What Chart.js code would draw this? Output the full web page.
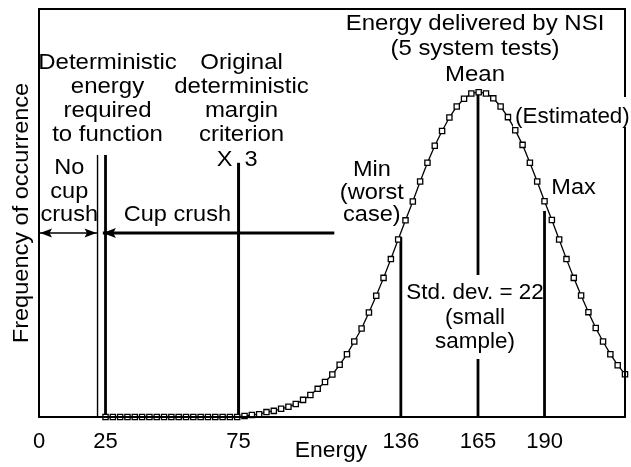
<!DOCTYPE html>
<html><head><meta charset="utf-8">
<script src="https://cdn.jsdelivr.net/npm/chart.js@4/dist/chart.umd.min.js"></script>
<style>html,body{margin:0;padding:0;background:#fff;}canvas{display:block;}</style>
</head><body>
<canvas id="c" width="631" height="467"></canvas>
<script>
// ---- data ----
const energy = [25, 27.75, 30.5, 33.25, 36, 38.75, 41.5, 44.25, 47, 49.75, 52.5, 55.25, 58, 60.75, 63.5, 66.25, 69, 71.75, 74.5, 77.25,
  80, 82.75, 85.5, 88.25, 91, 93.75, 96.5, 99.25, 102, 104.75, 107.5, 110.25, 113, 115.75, 118.5, 121.25, 124, 126.75, 129.5, 132.25,
  135, 137.75, 140.5, 143.25, 146, 148.75, 151.5, 154.25, 157, 159.75, 162.5, 165.25, 168, 170.75, 173.5, 176.25, 179, 181.75, 184.5, 187.25,
  190, 192.75, 195.5, 198.25, 201, 203.75, 206.5, 209.25, 212, 214.75, 217.5, 220.25];
const frequency = [0, 0, 0, 0, 0, 0, 0, 0, 0, 0, 0, 0, 0, 0, 0, 0, 0, 0, 0, 0.25,
  0.5, 0.7, 1.2, 1.5, 2.0, 2.5, 3.2, 4.2, 5.4, 6.9, 8.6, 10.4, 12.8, 15.4, 18.5, 21.7, 25.6, 29.7, 34.1, 38.7,
  43.5, 48.2, 52.8, 57.7, 62.3, 66.5, 70.1, 73.4, 76.1, 78.0, 79.3, 79.6, 79.3, 78.1, 76.1, 73.5, 70.3, 66.7, 62.3, 57.7,
  52.9, 48.3, 43.5, 38.7, 34.1, 29.8, 25.7, 21.8, 18.5, 15.4, 12.7, 10.5];
const tickValues = [0, 25, 75, 136, 165, 190];
const xMax = 220.25;

// vertical reference lines (energy, top frequency)
const thinLineEnergy = 22, thinLineTop = 64.2;
const requiredEnergy = 25, requiredTop = 64.2;
const criterionEnergy = 75, criterionTop = 62.3;
const minEnergy = 136, minTop = 44.1;
const maxEnergy = 190, maxTop = 50.5;
const meanEnergy = 165, meanUpper = [79.6, 34.8], meanLower = [14.2, 0];
// horizontal arrows
const arrowLevel = 45.1;
const noCrushSpan = [0, 22];
const cupCrushSpan = [24, 111];

const FONT = '22px "Liberation Sans", Arial, Helvetica, sans-serif';

function vline(x, y0, y1, w) {
  return { type: 'line', data: [{x: x, y: y0}, {x: x, y: y1}], borderColor: '#000', borderWidth: w,
    pointRadius: 0, fill: false, tension: 0, clip: false };
}
function hline(span, y, w) {
  return { type: 'line', data: [{x: span[0], y: y}, {x: span[1], y: y}], borderColor: '#000', borderWidth: w,
    pointRadius: 0, fill: false, tension: 0, clip: false };
}

const textPlugin = {
  id: 'annot',
  afterDatasetsDraw(chart) {
    const ctx = chart.ctx, a = chart.chartArea;
    const xs = chart.scales.x, ys = chart.scales.y;
    const px = v => xs.getPixelForValue(v);
    ctx.save();
    // frame
    ctx.strokeStyle = '#000'; ctx.lineWidth = 2;
    ctx.strokeRect(a.left, a.top, a.right - a.left, a.bottom - a.top);
    // arrowheads
    const yA = ys.getPixelForValue(arrowLevel);
    function head(tip, dir, len, half) {
      ctx.beginPath();
      ctx.moveTo(tip, yA);
      ctx.lineTo(tip - dir * len, yA - half);
      ctx.lineTo(tip - dir * len * 0.8, yA);
      ctx.lineTo(tip - dir * len, yA + half);
      ctx.closePath();
      ctx.fillStyle = '#000'; ctx.fill();
    }
    head(px(noCrushSpan[0]) + 1, -1, 12, 4.5);
    head(px(noCrushSpan[1]) - 1, 1, 12, 4.5);
    head(px(cupCrushSpan[0]), -1, 13, 5);

    ctx.fillStyle = '#000';
    ctx.font = FONT;
    ctx.textBaseline = 'middle';
    function txt(t, x, y, align, sx) {
      ctx.save();
      ctx.translate(x, y);
      ctx.scale(sx || 1.07, 1);
      ctx.textAlign = align || 'center';
      ctx.fillText(t, 0, 0);
      ctx.restore();
    }
    function lines(arr, x, ys0, align, sx) {
      arr.forEach((t, i) => txt(t, x, ys0[i], align, sx));
    }
    lines(['Deterministic', 'energy', 'required', 'to function'], px(requiredEnergy) + 2, [63, 87, 111, 135], 'center', 1.09);
    lines(['Original', 'deterministic', 'margin', 'criterion'], px(criterionEnergy) + 3, [63, 87, 111, 135], 'center', 1.09);
    txt('X', px(criterionEnergy) - 6, 160, 'right');
    txt('3', px(criterionEnergy) + 6, 160, 'left');
    lines(['No', 'cup', 'crush'], (a.left + px(thinLineEnergy)) / 2 + 1, [168, 192, 215]);
    lines(['Cup crush'], px(52), [215]);
    lines(['Energy delivered by NSI', '(5 system tests)', 'Mean'], px(meanEnergy) - 3, [24, 49, 75], 'center', 1.09);
    lines(['Min', '(worst', 'case)'], px(minEnergy) - 29, [170, 193, 215]);
    lines(['Max'], px(maxEnergy) + 29, [188]);
    lines(['Std. dev. = 22', '(small', 'sample)'], px(meanEnergy) - 3, [293, 318, 342], 'center', 1.02);
    // (Estimated) with white background over the frame
    const ex = px(200.5), ew = ctx.measureText('(Estimated)').width * 1.02;
    ctx.fillStyle = '#fff';
    ctx.fillRect(ex - ew / 2 - 2, 97, ew + 4, 30);
    ctx.fillStyle = '#000';
    lines(['(Estimated)'], ex, [117], 'center', 1.02);
    // axis titles
    txt('Energy', 331, 451, 'center', 1.04);
    ctx.translate(22, (a.top + a.bottom) / 2);
    ctx.rotate(-Math.PI / 2);
    ctx.scale(1.07, 1);
    ctx.textAlign = 'center';
    ctx.fillText('Frequency of occurrence', 0, 0);
    ctx.restore();
  }
};

new Chart(document.getElementById('c'), {
  type: 'scatter',
  data: {
    datasets: [
      { type: 'line', data: energy.map((e, i) => ({x: e, y: frequency[i]})), borderColor: '#000', borderWidth: 1.3,
        pointStyle: 'rect', pointRadius: 3.7, pointBackgroundColor: '#fff', pointBorderColor: '#000', pointBorderWidth: 1.3,
        fill: false, tension: 0, clip: false },
      vline(thinLineEnergy, 0, thinLineTop, 1.4),
      vline(requiredEnergy, 0, requiredTop, 2.8),
      vline(criterionEnergy, 0, criterionTop, 3),
      vline(minEnergy, 0, minTop, 2.8),
      vline(maxEnergy, 0, maxTop, 2.8),
      vline(meanEnergy, meanUpper[0], meanUpper[1], 2.8),
      vline(meanEnergy, meanLower[0], meanLower[1], 2.8),
      hline(noCrushSpan, arrowLevel, 1.5),
      hline(cupCrushSpan, arrowLevel, 3)
    ]
  },
  options: {
    responsive: false, animation: false, devicePixelRatio: 1,
    layout: { padding: { left: 39, right: 6, top: 9, bottom: 0 } },
    plugins: { legend: { display: false }, tooltip: { enabled: false } },
    scales: {
      x: { type: 'linear', min: 0, max: xMax,
        grid: { display: false, drawTicks: false }, border: { display: false },
        afterBuildTicks: s => { s.ticks = tickValues.map(v => ({value: v})); },
        afterFit: s => { s.height = 50; },
        ticks: { color: '#000', font: { family: '"Liberation Sans", Arial, sans-serif', size: 22 }, padding: 12,
          maxRotation: 0, autoSkip: false, callback: v => String(v) } },
      y: { display: false, min: 0, max: 100 }
    }
  },
  plugins: [textPlugin]
});
</script>
</body></html>
